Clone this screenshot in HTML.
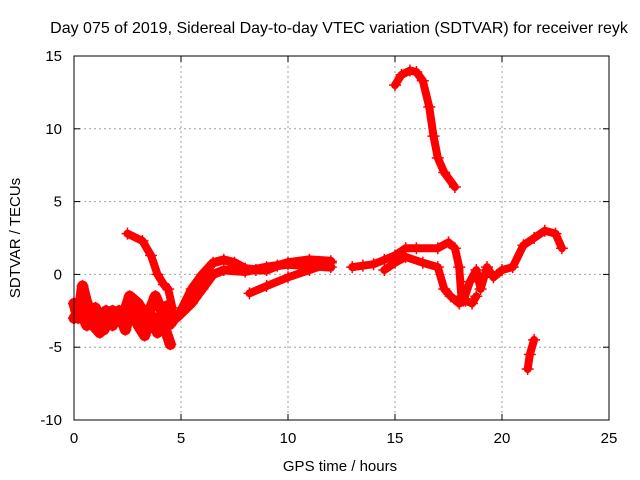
<!DOCTYPE html>
<html><head><meta charset="utf-8"><style>
body{margin:0;background:#fff}
svg{display:block;font-family:"Liberation Sans",sans-serif}
</style></head><body>
<svg id="chart" width="640" height="480">
<text x="339" y="33" font-size="16" text-anchor="middle">Day 075 of 2019, Sidereal Day-to-day VTEC variation (SDTVAR) for receiver reyk</text>
<text x="340" y="471" font-size="15" text-anchor="middle">GPS time / hours</text>
<text transform="translate(20,238) rotate(-90)" font-size="15" text-anchor="middle">SDTVAR / TECUs</text>
<g id="grid"></g><g id="data"></g><g id="axes"></g>
</svg>
<script>
const xTicks=[0,5,10,15,20,25];
const yTicks=[-10,-5,0,5,10,15];
const track1=[[0,-2],[0.2,-3],[0.4,-0.8],[0.6,-2],[0.9,-3.5],[1.2,-4],[1.5,-2.5],[1.8,-3.5],[2.1,-2.5],[2.4,-3.8],[2.7,-2],[3.0,-3.5],[3.3,-4.2],[3.6,-2.8],[3.9,-4],[4.2,-3.5],[4.5,-4.8]];
const track2=[[0,-3],[0.3,-2.5],[0.6,-3.5],[1,-2.3],[1.4,-3.8],[1.8,-2.5],[2.2,-3.3],[2.6,-1.5],[3,-2],[3.4,-3],[3.8,-1.5],[4.1,-2.5],[4.4,-3.5]];
const track12=[[0.1,-2.5],[0.5,-1.5],[0.8,-2.8],[1.1,-3],[1.5,-3.3],[2,-3],[2.4,-2.6],[2.8,-3],[3.2,-2.4],[3.6,-3.6],[4,-3],[4.3,-2.2],[4.6,-3]];
const track3=[[2.5,2.8],[3.2,2.3],[3.6,1.3],[3.9,0],[4.2,-0.7],[4.4,-1],[4.6,-2.3]];
const track4=[[4.5,-3.5],[5,-2.5],[5.5,-1],[6,0],[6.5,0.8],[7,1],[7.5,0.8],[8,0.4],[8.5,0.3],[9,0.3],[9.5,0.6],[10,0.8],[11,1],[12,0.9]];
const track5=[[4.8,-3],[5.5,-2],[6,-1],[6.5,0],[7,0.3],[8,0.2],[9,0.5],[10,0.7],[11,0.6],[12,0.5]];
const track6=[[8.2,-1.3],[9,-0.8],[10,-0.2],[11,0.3],[12,0.8]];
const track7=[[13,0.5],[13.5,0.6],[14,0.7],[14.5,1],[15,1.3],[15.5,1.8],[16,1.8],[17,1.8],[17.5,2.2],[17.8,1.8],[18,0.5],[18.1,-1.5]];
const track8=[[14.5,0.3],[15,0.8],[15.5,1.2],[16.3,0.8],[17,0.5],[17.3,-1],[17.6,-1.5],[18,-2],[18.3,-1.8],[18.6,-2],[18.8,-1.5]];
const track9=[[18.2,-1.8],[18.5,-0.5],[18.8,0.3],[19,-1],[19.3,0.5],[19.6,-0.2],[20,0.3],[20.5,0.5],[21,2],[21.5,2.5],[22,3],[22.5,2.8],[22.8,1.8]];
const track10=[[15,13],[15.3,13.7],[15.7,14],[16,13.9],[16.3,13.3],[16.6,11.5],[16.8,9.5],[17,8],[17.3,7],[17.8,6]];
const track11=[[21.2,-6.5],[21.3,-5.5],[21.5,-4.5]];
const tracks=[track1,track2,track12,track3,track4,track5,track6,track7,track8,track9,track10,track11];
const trackWidths=[11,11,11,8,9,9,8,8,8,8,8,8];
const L=74,R=609,T=56,B=420;
const X=h=>L+(h-0)/(25-0)*(R-L);
const Y=v=>B-(v+10)/25*(B-T);
const NS="http://www.w3.org/2000/svg";
function mk(tag,attrs,parent){const e=document.createElementNS(NS,tag);for(const k in attrs)e.setAttribute(k,attrs[k]);parent.appendChild(e);return e;}
const grid=document.getElementById('grid'),data=document.getElementById('data'),axes=document.getElementById('axes');
xTicks.forEach(t=>{
  if(t>0&&t<25){const g=mk('line',{x1:X(t),x2:X(t),y1:T,y2:B,stroke:'#a0a0a0','stroke-dasharray':'2,3'},grid);
  
  }
  const tx=mk('text',{x:X(t),y:B+23,'font-size':15,'text-anchor':'middle'},axes);tx.textContent=t;
  
  
  mk('line',{x1:X(t),x2:X(t),y1:B,y2:B-6,stroke:'#000'},axes);
  mk('line',{x1:X(t),x2:X(t),y1:T,y2:T+6,stroke:'#000'},axes);
});
yTicks.forEach(t=>{
  if(t>-10&&t<15){const g=mk('line',{x1:L,x2:R,y1:Y(t),y2:Y(t),stroke:'#a0a0a0','stroke-dasharray':'2,3'},grid);
  
  }
  const tx=mk('text',{x:L-12,y:Y(t)+5,'font-size':15,'text-anchor':'end'},axes);tx.textContent=t;
  
  
  mk('line',{x1:L,x2:L+6,y1:Y(t),y2:Y(t),stroke:'#000'},axes);
  mk('line',{x1:R,x2:R-6,y1:Y(t),y2:Y(t),stroke:'#000'},axes);
});
const frame=mk('rect',{x:L,y:T,width:R-L,height:B-T,fill:'none',stroke:'#000'},axes);


tracks.forEach((tr,i)=>{
  const pl=mk('polyline',{points:tr.map(p=>X(p[0])+','+Y(p[1])).join(' '),fill:'none',stroke:'#ff0000','stroke-width':trackWidths[i],'stroke-linejoin':'round','stroke-linecap':'round'},data);
  
  
  tr.forEach(p=>{
    const x=X(p[0]),y=Y(p[1]);
    const m=mk('path',{d:`M${x-6},${y}H${x+6}M${x},${y-6}V${y+6}`,stroke:'#ff0000','stroke-width':1.5},data);
    
    
  });
});
</script>
</body></html>
